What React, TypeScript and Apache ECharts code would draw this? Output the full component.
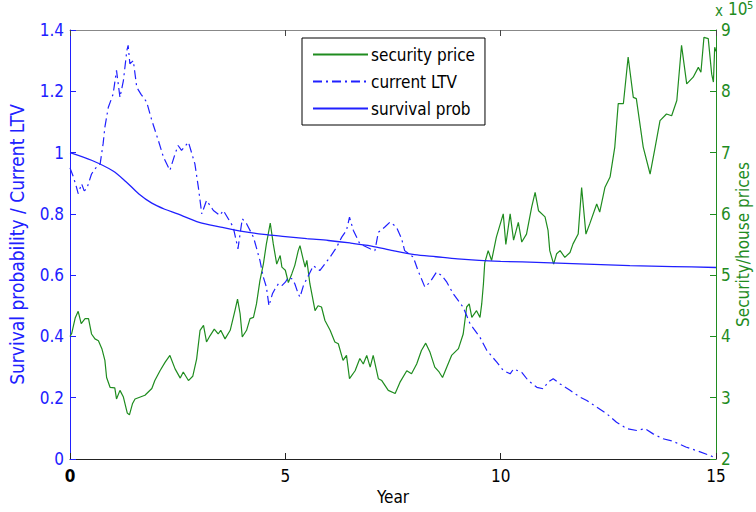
import React, { useEffect, useRef } from "react";
import * as echarts from "echarts";

const survivalYears = [0, 0.5, 1.0, 1.3, 1.6, 1.9, 2.2, 2.5, 3.0, 3.5, 4.0, 4.5, 5.0, 5.5, 6.0, 6.5, 7.0, 7.5, 8.0, 8.5, 9.0, 9.5, 10, 11, 12, 13, 14, 15];
const survivalProb = [1.0, 0.975, 0.94, 0.905, 0.865, 0.835, 0.815, 0.8, 0.772, 0.757, 0.743, 0.733, 0.726, 0.719, 0.713, 0.705, 0.695, 0.68, 0.667, 0.66, 0.653, 0.648, 0.645, 0.641, 0.636, 0.631, 0.628, 0.625];

const ltvYears = [0, 0.08, 0.15, 0.19, 0.27, 0.33, 0.39, 0.5, 0.6, 0.7, 0.77, 0.81, 0.89, 1.0, 1.08, 1.16, 1.24, 1.32, 1.35, 1.39, 1.47, 1.55, 1.65, 1.78, 1.9, 2.05, 2.17, 2.32, 2.44, 2.51, 2.59, 2.75, 2.9, 2.98, 3.06, 3.17, 3.33, 3.48, 3.56, 3.79, 3.9, 4.0, 4.1, 4.26, 4.41, 4.49, 4.56, 4.62, 4.7, 4.76, 4.84, 4.92, 5.0, 5.07, 5.15, 5.22, 5.3, 5.34, 5.42, 5.65, 5.8, 6.04, 6.19, 6.31, 6.42, 6.49, 6.58, 6.73, 6.97, 7.08, 7.16, 7.31, 7.43, 7.58, 7.7, 7.77, 7.97, 8.08, 8.24, 8.36, 8.51, 8.63, 8.75, 8.9, 9.13, 9.29, 9.52, 9.68, 9.91, 10.06, 10.22, 10.3, 10.49, 10.64, 10.84, 10.99, 11.1, 11.22, 11.38, 11.61, 11.84, 12.0, 12.23, 12.46, 12.69, 12.93, 13.16, 13.35, 13.54, 13.77, 14.0, 14.3, 14.6, 14.85, 15.0];
const currentLtv = [0.95, 0.92, 0.887, 0.866, 0.898, 0.875, 0.882, 0.93, 0.95, 0.963, 1.03, 1.083, 1.148, 1.19, 1.268, 1.18, 1.235, 1.333, 1.35, 1.29, 1.3, 1.213, 1.19, 1.165, 1.105, 1.04, 0.985, 0.942, 0.996, 1.023, 1.007, 1.034, 0.963, 0.887, 0.8, 0.844, 0.811, 0.795, 0.811, 0.757, 0.686, 0.784, 0.768, 0.724, 0.648, 0.593, 0.561, 0.5, 0.539, 0.555, 0.572, 0.566, 0.577, 0.593, 0.588, 0.572, 0.539, 0.528, 0.566, 0.631, 0.615, 0.659, 0.691, 0.724, 0.746, 0.789, 0.746, 0.702, 0.686, 0.68, 0.74, 0.757, 0.773, 0.757, 0.719, 0.68, 0.659, 0.615, 0.561, 0.577, 0.61, 0.599, 0.577, 0.539, 0.495, 0.441, 0.397, 0.354, 0.316, 0.289, 0.278, 0.294, 0.283, 0.256, 0.234, 0.229, 0.251, 0.262, 0.245, 0.224, 0.202, 0.191, 0.169, 0.148, 0.12, 0.099, 0.093, 0.099, 0.082, 0.066, 0.058, 0.039, 0.025, 0.012, 0.003];

const priceYears = [0, 0.04, 0.12, 0.19, 0.26, 0.35, 0.43, 0.5, 0.58, 0.66, 0.74, 0.81, 0.85, 0.93, 1.04, 1.08, 1.16, 1.24, 1.33, 1.38, 1.45, 1.51, 1.74, 1.9, 1.97, 2.09, 2.21, 2.32, 2.44, 2.56, 2.63, 2.75, 2.85, 2.94, 3.02, 3.1, 3.17, 3.25, 3.35, 3.44, 3.5, 3.6, 3.72, 3.83, 3.89, 3.95, 4.0, 4.1, 4.18, 4.26, 4.33, 4.41, 4.49, 4.56, 4.65, 4.72, 4.8, 4.88, 4.92, 5.0, 5.07, 5.15, 5.22, 5.3, 5.34, 5.42, 5.46, 5.5, 5.57, 5.69, 5.76, 5.84, 5.92, 6.04, 6.15, 6.23, 6.34, 6.42, 6.49, 6.62, 6.73, 6.81, 6.89, 6.97, 7.04, 7.16, 7.24, 7.39, 7.55, 7.66, 7.82, 7.93, 8.05, 8.16, 8.26, 8.36, 8.47, 8.57, 8.65, 8.75, 8.86, 9.02, 9.13, 9.21, 9.27, 9.33, 9.44, 9.52, 9.56, 9.6, 9.63, 9.71, 9.79, 9.9, 10.06, 10.12, 10.22, 10.3, 10.41, 10.49, 10.6, 10.72, 10.8, 10.88, 11.03, 11.1, 11.14, 11.23, 11.3, 11.38, 11.49, 11.61, 11.68, 11.8, 11.88, 11.98, 12.07, 12.23, 12.3, 12.42, 12.54, 12.65, 12.73, 12.85, 12.96, 13.08, 13.15, 13.31, 13.47, 13.58, 13.7, 13.85, 13.97, 14.09, 14.2, 14.32, 14.47, 14.59, 14.65, 14.72, 14.82, 14.9, 14.94, 14.97, 15.0];
const securityPrice = [4.0, 4.05, 4.3, 4.41, 4.21, 4.29, 4.29, 4.04, 3.96, 3.93, 3.8, 3.61, 3.33, 3.17, 3.16, 2.98, 3.12, 3.01, 2.75, 2.72, 2.9, 2.98, 3.04, 3.15, 3.28, 3.44, 3.58, 3.69, 3.47, 3.32, 3.42, 3.28, 3.35, 3.63, 4.1, 4.18, 3.91, 4.01, 4.12, 4.04, 4.1, 3.96, 4.1, 4.42, 4.61, 4.37, 3.99, 4.1, 4.29, 4.31, 4.53, 4.91, 5.18, 5.51, 5.85, 5.51, 5.18, 5.32, 5.13, 5.08, 4.88, 5.02, 5.16, 5.4, 5.48, 5.24, 5.13, 5.24, 4.86, 4.42, 4.5, 4.48, 4.26, 4.1, 3.91, 3.88, 3.61, 3.69, 3.31, 3.44, 3.64, 3.55, 3.69, 3.5, 3.69, 3.31, 3.28, 3.12, 3.07, 3.25, 3.44, 3.39, 3.55, 3.77, 3.89, 3.74, 3.5, 3.42, 3.33, 3.5, 3.69, 3.8, 4.04, 4.48, 4.53, 4.31, 4.42, 4.31, 4.53, 4.86, 5.2, 5.4, 5.24, 5.62, 6.0, 5.5, 6.0, 5.57, 5.86, 5.54, 5.67, 6.11, 6.35, 6.05, 5.95, 5.73, 5.4, 5.18, 5.35, 5.4, 5.29, 5.37, 5.51, 5.67, 6.43, 5.67, 5.84, 6.16, 6.03, 6.43, 6.6, 7.09, 7.8, 7.8, 8.56, 7.9, 7.88, 7.09, 6.65, 7.06, 7.52, 7.63, 7.6, 7.85, 8.75, 8.12, 8.23, 8.39, 8.31, 8.88, 8.86, 8.28, 8.15, 8.72, 8.65];

const seriesNames = ["security price", "current LTV", "survival prob"];

const BLUE = "#2020ff";
const GREEN = "#1f8c1f";
const FONT = "'DejaVu Sans Condensed', 'Liberation Sans', Arial, sans-serif";

const zip = (xs: number[], ys: number[]) => xs.map((x, i) => [x, ys[i]]);

export default function App() {
  const ref = useRef<HTMLDivElement>(null);
  useEffect(() => {
    if (!ref.current) return;
    const chart = echarts.init(ref.current, undefined, { renderer: "svg" });
    chart.setOption({
      animation: false,
      backgroundColor: "#ffffff",
      textStyle: { fontFamily: FONT },
      grid: { left: 70, right: 40, top: 30, bottom: 53, containLabel: false, outerBoundsMode: "none" },
      legend: {
        orient: "vertical",
        left: 302,
        top: 38,
        padding: [8, 10, 8, 10],
        itemWidth: 55,
        itemHeight: 14,
        itemGap: 10,
        backgroundColor: "#ffffff",
        borderColor: "#000000",
        borderWidth: 1,
        borderRadius: 0,
        data: seriesNames,
        itemStyle: { opacity: 0, borderWidth: 0 },
        textStyle: { fontFamily: FONT, fontSize: 17, color: "#000", padding: [0, 0, 0, -2] },
      },
      graphic: [
        { type: "text", left: 715, top: 3, style: { text: "x", fill: GREEN, font: `15px ${FONT}` } },
        { type: "text", left: 728, top: 0, style: { text: "10", fill: GREEN, font: `17px ${FONT}` } },
        { type: "text", left: 747, top: 0, style: { text: "5", fill: GREEN, font: `11px ${FONT}` } },
      ],
      xAxis: [
        {
          type: "value",
          position: "bottom",
          min: 0,
          max: 15,
          interval: 5,
          name: "Year",
          nameLocation: "middle",
          nameGap: 28,
          nameTextStyle: { color: "#000", fontSize: 17, fontFamily: FONT },
          axisLine: { onZero: false, lineStyle: { color: "#222", width: 1 } },
          axisTick: { inside: true, length: 6, lineStyle: { color: "#222" } },
          axisLabel: {
            color: "#000",
            fontSize: 17,
            margin: 8,
            fontFamily: FONT,
            formatter: (v: number) => (v === 0 ? "{b|0}" : String(v)),
            rich: { b: { fontWeight: "bold", fontSize: 17, fontFamily: FONT, color: "#000" } },
          },
          splitLine: { show: false },
        },
        {
          type: "value",
          position: "top",
          min: 0,
          max: 15,
          interval: 5,
          axisLine: { onZero: false, lineStyle: { color: "#888", width: 1 } },
          axisTick: { inside: true, length: 6, lineStyle: { color: "#444" } },
          axisLabel: { show: false },
          splitLine: { show: false },
        },
      ],
      yAxis: [
        {
          type: "value",
          position: "left",
          min: 0,
          max: 1.4,
          interval: 0.2,
          name: "Survival probability / Current LTV",
          nameLocation: "middle",
          nameGap: 44,
          nameMoveOverlap: false,
          nameTextStyle: { color: BLUE, fontSize: 19, fontFamily: FONT },
          axisLine: { show: true, onZero: false, lineStyle: { color: BLUE, width: 1 } },
          axisTick: { show: true, inside: true, length: 6, lineStyle: { color: BLUE } },
          axisLabel: { color: BLUE, fontSize: 17, margin: 6, fontFamily: FONT },
          splitLine: { show: false },
        },
        {
          type: "value",
          position: "right",
          min: 2,
          max: 9,
          interval: 1,
          name: "Security/house prices",
          nameLocation: "middle",
          nameGap: 18,
          nameMoveOverlap: false,
          nameTextStyle: { color: GREEN, fontSize: 17, fontFamily: FONT },
          axisLine: { show: true, onZero: false, lineStyle: { color: GREEN, width: 1 } },
          axisTick: { show: true, inside: true, length: 6, lineStyle: { color: GREEN } },
          axisLabel: { color: GREEN, fontSize: 17, margin: 5, fontFamily: FONT },
          splitLine: { show: false },
        },
      ],
      series: [
        {
          name: seriesNames[0],
          type: "line",
          xAxisIndex: 0,
          yAxisIndex: 1,
          data: zip(priceYears, securityPrice),
          symbol: "none",
          color: GREEN,
          lineStyle: { color: GREEN, width: 1.2 },
          z: 2,
        },
        {
          name: seriesNames[1],
          type: "line",
          xAxisIndex: 0,
          yAxisIndex: 0,
          data: zip(ltvYears, currentLtv),
          symbol: "none",
          color: BLUE,
          lineStyle: { color: BLUE, width: 1.2, type: [9, 4, 2, 4] },
          z: 3,
        },
        {
          name: seriesNames[2],
          type: "line",
          xAxisIndex: 0,
          yAxisIndex: 0,
          data: zip(survivalYears, survivalProb),
          symbol: "none",
          smooth: 0.3,
          color: BLUE,
          lineStyle: { color: BLUE, width: 1.3 },
          z: 4,
        },
      ],
    });
    return () => chart.dispose();
  }, []);
  return (
    <div
      ref={ref}
      style={{ position: "fixed", left: 0, top: 0, width: 756, height: 512, background: "#fff" }}
    />
  );
}
